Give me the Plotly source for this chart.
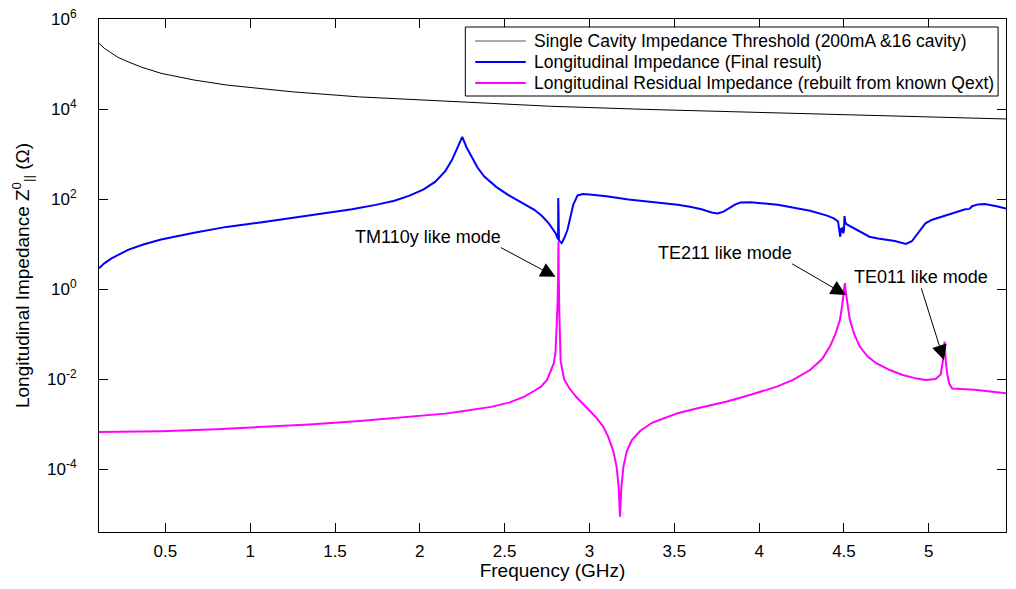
import plotly.graph_objects as go

# ---- data (frequency in GHz, impedance in Ohm) ----
thr_f = [0.109, 0.14, 0.183, 0.22, 0.28, 0.36, 0.475, 0.67, 0.864, 1.0, 1.253, 1.64,
         2.03, 2.42, 2.77, 3.33, 3.91, 4.5, 5.08, 5.455]
thr_z = [2.88e5, 2.24e5, 1.74e5, 1.41e5, 1.12e5, 8.5e4, 6.2e4, 4.4e4, 3.4e4, 3.0e4, 2.4e4, 1.86e4,
         1.58e4, 1.35e4, 1.15e4, 9.8e3, 8.5e3, 7.4e3, 6.6e3, 6.0e3]

lon_f = [0.109, 0.14, 0.183, 0.23, 0.28, 0.37, 0.475, 0.67, 0.86, 1.06, 1.25, 1.45, 1.60, 1.74,
         1.85, 1.935, 2.02, 2.09, 2.15, 2.19, 2.225, 2.25, 2.275, 2.305, 2.34, 2.38, 2.45, 2.52,
         2.60, 2.675, 2.72, 2.76, 2.80, 2.812, 2.815, 2.816, 2.818, 2.82, 2.836, 2.85, 2.87, 2.89,
         2.905, 2.93, 2.96, 3.0, 3.1, 3.23, 3.38, 3.52, 3.60, 3.66, 3.72, 3.755, 3.79, 3.82, 3.86,
         3.89, 3.95, 4.11, 4.30, 4.40, 4.44, 4.465, 4.472, 4.478, 4.484, 4.49, 4.495, 4.50, 4.503,
         4.508, 4.515, 4.58, 4.65, 4.70, 4.75, 4.80, 4.865, 4.90, 4.92, 4.95, 4.98, 5.02, 5.08,
         5.15, 5.215, 5.24, 5.255, 5.29, 5.33, 5.40, 5.455]
lon_z = [2.88, 3.72, 4.79, 6.03, 7.41, 9.77, 12.6, 17.8, 24.0, 30.2, 38.0, 47.9, 58.9, 74.1,
         91.2, 117.5, 162, 240, 417, 741, 1413, 2399, 1413, 871, 501, 316, 186, 123,
         83.2, 57.5, 41.7, 28.8, 17.4, 13.2, 12.6, 105, 12.6, 12.0, 10.5, 13.2, 20.4, 44.7,
         75.9, 120, 129, 126, 115, 97.7, 85.1, 74.1, 66.1, 58.9, 50.1, 47.9, 52.5, 61.7, 75.9,
         83.2, 85.1, 74.1, 55.0, 42.7, 37.2, 31.6, 20.0, 14.5, 21.9, 22.4, 17.4, 20.0, 41.7,
         30.2, 27.5, 20.4, 14.5, 13.2, 12.3, 11.7, 10.0, 11.5, 14.5, 20.9, 28.8, 34.7, 40.7,
         49.0, 58.9, 60.3, 69.2, 75.9, 77.6, 69.2, 61.7]

res_f = [0.109, 0.475, 0.8, 1.06, 1.35, 1.645, 1.85, 2.03, 2.15, 2.25, 2.33, 2.42, 2.53, 2.616,
         2.68, 2.714, 2.75, 2.79, 2.80, 2.807, 2.812, 2.815, 2.817, 2.819, 2.822, 2.826, 2.83,
         2.85, 2.88, 2.92, 2.98, 3.035, 3.08, 3.11, 3.14, 3.16, 3.172, 3.18, 3.188, 3.20, 3.22,
         3.25, 3.30, 3.366, 3.42, 3.52, 3.65, 3.81, 3.95, 4.105, 4.20, 4.30, 4.37, 4.417, 4.45,
         4.476, 4.49, 4.50, 4.505, 4.51, 4.52, 4.535, 4.56, 4.593, 4.64, 4.69, 4.77, 4.846, 4.93,
         4.98, 5.04, 5.07, 5.083, 5.093, 5.10, 5.108, 5.12, 5.138, 5.27, 5.455]
res_z = [6.6e-4, 6.9e-4, 7.6e-4, 8.5e-4, 9.8e-4, 1.17e-3, 1.35e-3, 1.51e-3, 1.70e-3, 1.91e-3,
         2.09e-3, 2.40e-3, 3.02e-3, 4.07e-3, 5.62e-3, 6.76e-3, 9.55e-3, 2.24e-2, 3.98e-2, 0.123,
         0.501, 2.0, 11.2, 2.0, 0.316, 6.31e-2, 2.51e-2, 1.0e-2, 6.31e-3, 4.07e-3, 2.40e-3,
         1.45e-3, 8.9e-4, 5.25e-4, 2.51e-4, 1.12e-4, 3.98e-5, 8.7e-6, 3.98e-5, 1.12e-4, 2.51e-4,
         4.37e-4, 7.08e-4, 1.05e-3, 1.26e-3, 1.74e-3, 2.29e-3, 3.16e-3, 4.47e-3, 6.76e-3,
         9.55e-3, 1.58e-2, 2.75e-2, 5.25e-2, 0.1, 0.204, 0.447, 0.891, 1.35, 0.891, 0.447, 0.204,
         0.1, 5.25e-2, 3.16e-2, 2.24e-2, 1.58e-2, 1.23e-2, 1.02e-2, 9.55e-3, 1.0e-2, 1.26e-2,
         2.51e-2, 6.76e-2, 2.51e-2, 1.35e-2, 7.94e-3, 6.17e-3, 5.75e-3, 4.79e-3]

x_ticks = [0.5, 1, 1.5, 2, 2.5, 3, 3.5, 4, 4.5, 5]
x_ticktext = ["0.5", "1", "1.5", "2", "2.5", "3", "3.5", "4", "4.5", "5"]
y_ticks = [1e-4, 1e-2, 1e0, 1e2, 1e4, 1e6]
y_ticktext = ["10<sup>-4</sup>", "10<sup>-2</sup>", "10<sup>0</sup>", "10<sup>2</sup>",
              "10<sup>4</sup>", "10<sup>6</sup>"]

series_names = ["Single Cavity Impedance Threshold (200mA &16 cavity)",
                "Longitudinal Impedance (Final result)",
                "Longitudinal Residual Impedance (rebuilt from known Qext)"]
series_colors = ["black", "#0000ff", "#ff00ff"]
series_widths = [1, 2, 2]

# annotations: label text, label position (f, log10 Z), arrow tail, arrow tip
ann_text = ["TM110y like mode", "TE211 like mode", "TE011 like mode"]
ann_label_f = [2.051, 3.80, 4.954]
ann_label_logz = [1.16, 0.79, 0.27]
ann_tail_f = [2.468, 4.186, 4.953]
ann_tail_logz = [0.94, 0.578, 0.05]
ann_tip_f = [2.80, 4.511, 5.089]
ann_tip_logz = [0.27, -0.133, -1.58]

FONT = "Liberation Sans, Arial, Helvetica, sans-serif"

fig = go.Figure()
for fx, zy, nm, col, w in zip([thr_f, lon_f, res_f], [thr_z, lon_z, res_z], series_names,
                              series_colors, series_widths):
    fig.add_trace(go.Scatter(x=fx, y=zy, mode="lines", line=dict(color=col, width=w),
                             name=nm, showlegend=False))

annotations = []
shapes = []
for t, lf, lz, tf, tz, pf, pz in zip(ann_text, ann_label_f, ann_label_logz, ann_tail_f,
                                      ann_tail_logz, ann_tip_f, ann_tip_logz):
    annotations.append(dict(x=lf, y=lz, xref="x", yref="y", text=t, showarrow=False,
                            font=dict(family=FONT, size=18, color="black")))
    annotations.append(dict(x=pf, y=pz, xref="x", yref="y", ax=tf, ay=tz, axref="x", ayref="y",
                            text="", showarrow=True, arrowhead=2, arrowsize=3, arrowwidth=1,
                            arrowcolor="black", standoff=0, startstandoff=0))

# legend box drawn in paper coordinates (MATLAB-style compact legend)
leg_x0, leg_x1, leg_y0, leg_y1 = 0.4039, 0.9913, 0.8499, 0.9844
leg_line_x0, leg_line_x1, leg_text_x = 0.4148, 0.4705, 0.4771
leg_rows = [0.9571, 0.9162, 0.8752]
shapes.append(dict(type="rect", xref="paper", yref="paper", x0=leg_x0, x1=leg_x1, y0=leg_y0,
                   y1=leg_y1, line=dict(color="black", width=1), fillcolor="white", layer="above"))
for ry, nm, col, w in zip(leg_rows, series_names, series_colors, series_widths):
    shapes.append(dict(type="line", xref="paper", yref="paper", x0=leg_line_x0, x1=leg_line_x1,
                       y0=ry, y1=ry, line=dict(color=col if col != "black" else "#555555",
                                               width=w), layer="above"))
    annotations.append(dict(x=leg_text_x, y=ry, xref="paper", yref="paper", text=nm,
                            showarrow=False, xanchor="left", yanchor="middle",
                            font=dict(family=FONT, size=17.5, color="black")))

# the page adds an 8px offset and the visible width ends near 1008px,
# so the figure is sized to keep the whole frame in view
fig.update_layout(
    width=1000, height=573,
    margin=dict(l=91, r=2, t=11, b=49, autoexpand=False),
    paper_bgcolor="white", plot_bgcolor="white",
    font=dict(family=FONT, size=17, color="black"),
    showlegend=False,
    annotations=annotations,
    shapes=shapes,
)
fig.update_xaxes(range=[0.109, 5.455], tickvals=x_ticks, ticktext=x_ticktext, automargin=False,
                 ticks="inside", ticklen=9, tickcolor="black", showline=True, linecolor="black",
                 linewidth=1, mirror="ticks", showgrid=False, zeroline=False,
                 title=dict(text="Frequency (GHz)", font=dict(size=19), standoff=0),
                 tickfont=dict(size=17), ticklabelstandoff=4, ticklabeloverflow="allow")
fig.update_yaxes(type="log", range=[-5.4, 6.0], tickvals=y_ticks, ticktext=y_ticktext,
                 automargin=False,
                 ticks="inside", ticklen=9, tickcolor="black", showline=True, linecolor="black",
                 linewidth=1, mirror="ticks", showgrid=False, zeroline=False,
                 title=dict(text="Longitudinal Impedance Z<sup>0</sup><sub>||</sub> (Ω)",
                            font=dict(size=19), standoff=12),
                 tickfont=dict(size=17), ticklabelstandoff=18, ticklabeloverflow="allow")

fig.write_html("out.html")
